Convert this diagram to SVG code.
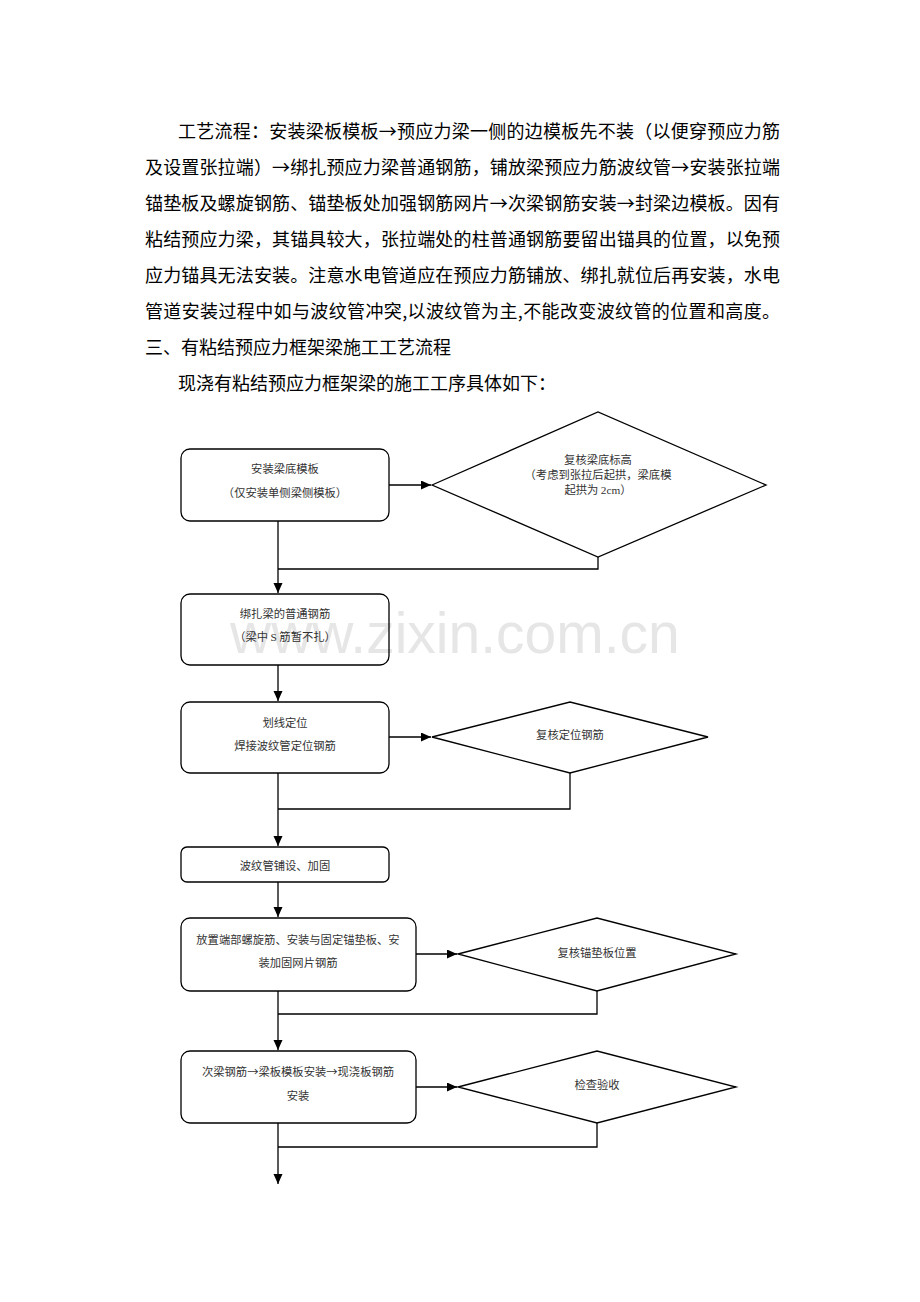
<svg xmlns="http://www.w3.org/2000/svg" width="920" height="1302" viewBox="0 0 920 1302">
<defs>
<style>
.p{font-family:"Noto Sans CJK SC","Liberation Serif",serif;font-size:18px;fill:#000}
.t{font-family:"Noto Sans CJK SC","Liberation Serif",serif;font-size:11.3px;fill:#333;text-anchor:middle}
.lat{font-family:"Liberation Serif",serif}
.box{fill:none;stroke:#000;stroke-width:1.3}
.dia{fill:none;stroke:#000;stroke-width:1.3}
.c{fill:none;stroke:#000;stroke-width:1.3}
.wm{font-family:"Liberation Sans",Arial,sans-serif;font-size:57px;fill:#e6e6e6}
</style>
<marker id="ah" markerUnits="userSpaceOnUse" markerWidth="11" markerHeight="10" refX="10" refY="4.5" orient="auto">
<path d="M0,0 L10,4.5 L0,9 z" fill="#000"/>
</marker>
</defs>
<rect width="920" height="1302" fill="#fff"/>
<text class="wm" x="230" y="653">www.zixin.com.cn</text>
<g id="paragraph">
<text class="p" x="178" y="138" textLength="602" lengthAdjust="spacing">工艺流程：安装梁板模板→预应力梁一侧的边模板先不装（以便穿预应力筋</text>
<text class="p" x="145" y="174" textLength="635" lengthAdjust="spacing">及设置张拉端）→绑扎预应力梁普通钢筋，铺放梁预应力筋波纹管→安装张拉端</text>
<text class="p" x="145" y="210" textLength="635" lengthAdjust="spacing">锚垫板及螺旋钢筋、锚垫板处加强钢筋网片→次梁钢筋安装→封梁边模板。因有</text>
<text class="p" x="145" y="246" textLength="635" lengthAdjust="spacing">粘结预应力梁，其锚具较大，张拉端处的柱普通钢筋要留出锚具的位置，以免预</text>
<text class="p" x="145" y="282" textLength="635" lengthAdjust="spacing">应力锚具无法安装。注意水电管道应在预应力筋铺放、绑扎就位后再安装，水电</text>
<text class="p" x="145" y="318" textLength="635" lengthAdjust="spacing">管道安装过程中如与波纹管冲突,以波纹管为主,不能改变波纹管的位置和高度。</text>
<text class="p" x="145" y="354">三、有粘结预应力框架梁施工工艺流程</text>
<text class="p" x="178" y="390">现浇有粘结预应力框架梁的施工工序具体如下：</text>
</g>
<g id="connectors">
<path class="c" d="M278,521 V593" marker-end="url(#ah)"/>
<path class="c" d="M598,557 V569 H278"/>
<path class="c" d="M389,485 H431" marker-end="url(#ah)"/>
<path class="c" d="M278,665 V701" marker-end="url(#ah)"/>
<path class="c" d="M389,737 H431" marker-end="url(#ah)"/>
<path class="c" d="M278,773 V846" marker-end="url(#ah)"/>
<path class="c" d="M570,773 V809 H278"/>
<path class="c" d="M278,882 V917" marker-end="url(#ah)"/>
<path class="c" d="M416,954 H457" marker-end="url(#ah)"/>
<path class="c" d="M278,991 V1050" marker-end="url(#ah)"/>
<path class="c" d="M597,991 V1014 H278"/>
<path class="c" d="M416,1087 H457" marker-end="url(#ah)"/>
<path class="c" d="M278,1123 V1184" marker-end="url(#ah)"/>
<path class="c" d="M597,1123 V1147 H278"/>
</g>
<g id="n1">
<rect class="box" x="181" y="449" width="208" height="72" rx="9"/>
<text class="t" x="285" y="473">安装梁底模板</text>
<text class="t" x="285" y="497">（仅安装单侧梁侧模板）</text>
</g>
<g id="d1">
<polygon class="dia" points="432,485 598,412 766,485 598,557"/>
<text class="t" x="598" y="464">复核梁底标高</text>
<text class="t" x="598" y="479">（考虑到张拉后起拱，梁底模</text>
<text class="t" x="598" y="494">起拱为 <tspan class="lat">2cm</tspan>）</text>
</g>
<g id="n2">
<rect class="box" x="181" y="594" width="208" height="71" rx="9"/>
<text class="t" x="285" y="618">绑扎梁的普通钢筋</text>
<text class="t" x="285" y="641">（梁中 <tspan class="lat">S</tspan> 筋暂不扎）</text>
</g>
<g id="n3">
<rect class="box" x="181" y="702" width="208" height="71" rx="9"/>
<text class="t" x="285" y="727">划线定位</text>
<text class="t" x="285" y="750">焊接波纹管定位钢筋</text>
</g>
<g id="d2">
<polygon class="dia" points="432,737 570,702 708,737 570,773"/>
<text class="t" x="570" y="739">复核定位钢筋</text>
</g>
<g id="n4">
<rect class="box" x="181" y="847" width="208" height="35" rx="6"/>
<text class="t" x="285" y="870">波纹管铺设、加固</text>
</g>
<g id="n5">
<rect class="box" x="181" y="918" width="235" height="73" rx="9"/>
<text class="t" x="298" y="944">放置端部螺旋筋、安装与固定锚垫板、安</text>
<text class="t" x="298" y="967">装加固网片钢筋</text>
</g>
<g id="d3">
<polygon class="dia" points="458,954 597,918 736,954 597,991"/>
<text class="t" x="597" y="957">复核锚垫板位置</text>
</g>
<g id="n6">
<rect class="box" x="181" y="1051" width="235" height="72" rx="9"/>
<text class="t" x="298" y="1076">次梁钢筋→梁板模板安装→现浇板钢筋</text>
<text class="t" x="298" y="1100">安装</text>
</g>
<g id="d4">
<polygon class="dia" points="458,1087 597,1051 736,1087 597,1123"/>
<text class="t" x="597" y="1089">检查验收</text>
</g>
</svg>
